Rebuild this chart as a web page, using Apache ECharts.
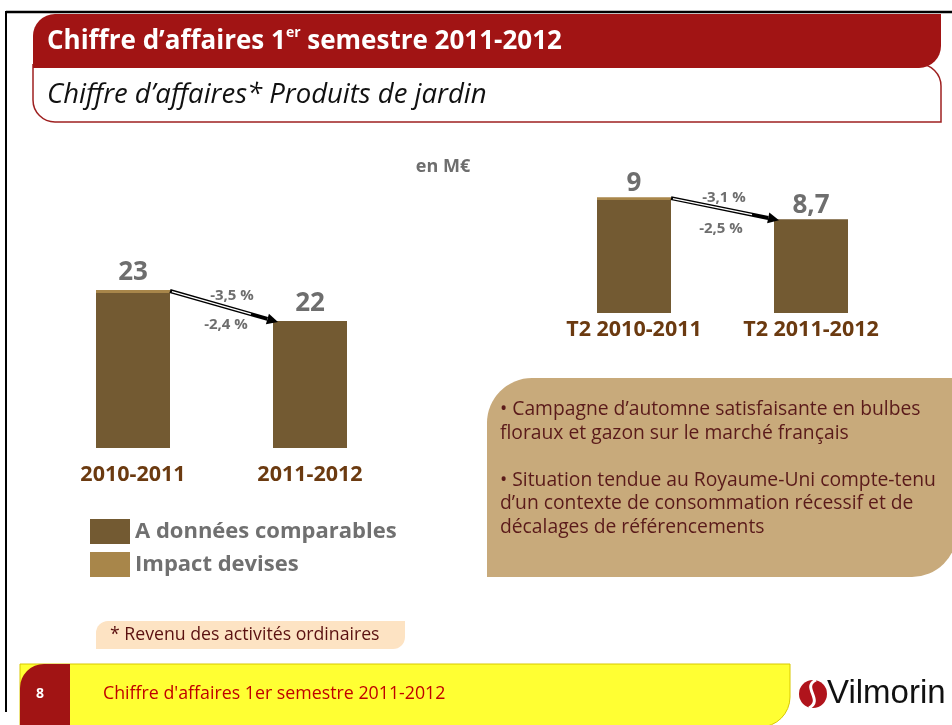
<!DOCTYPE html>
<html>
<head>
<meta charset="utf-8">
<script src="https://cdn.jsdelivr.net/npm/echarts@6/dist/echarts.min.js"></script>
<style>
html,body{margin:0;padding:0;background:#fff;}
#c{width:952px;height:725px;}
</style>
</head>
<body>
<div id="c"></div>
<script>
// ---- data ----
var catsH1 = ['2010-2011', '2011-2012'];
var catsT2 = ['T2 2010-2011', 'T2 2011-2012'];
var comparableH1 = [22.9, 22];
var impactH1 = [0.1, 0];
var totalLabelsH1 = ['23', '22'];
var comparableT2 = [8.96, 8.7];
var impactT2 = [0.04, 0];
var totalLabelsT2 = ['9', '8,7'];
var pctH1 = ['-3,5 %', '-2,4 %'];
var pctT2 = ['-3,1 %', '-2,5 %'];
var seriesNames = ['A données comparables', 'Impact devises'];
var bullets = [
  '• Campagne d’automne satisfaisante en bulbes',
  'floraux et gazon sur le marché français',
  '',
  '• Situation tendue au Royaume-Uni compte-tenu',
  'd’un contexte de consommation récessif et de',
  'décalages de référencements'
];

var FONT = '"Open Sans", "Noto Sans", sans-serif';
var DARKRED = '#A11414';
var BROWN = '#735A32';
var TAN = '#A8864A';
var GRAY = '#6E6E6E';
var CAT = '#6B3A10';

var chart = echarts.init(document.getElementById('c'), null, {renderer: 'canvas'});

function xAxisCfg(idx, data, margin) {
  return {
    type: 'category', gridIndex: idx, data: data,
    axisLine: {show: false}, axisTick: {show: false},
    axisLabel: {margin: margin, color: CAT, fontWeight: 'bold', fontSize: 21.5, fontFamily: FONT}
  };
}
function yAxisCfg(idx, min, max) {
  return {type: 'value', gridIndex: idx, min: min, max: max, show: false, splitLine: {show: false}};
}
function labelCfg(labels, dist) {
  return {
    show: true, position: 'top', distance: dist,
    color: GRAY, fontSize: 26, fontWeight: 'bold', fontFamily: FONT,
    formatter: function (p) { return labels[p.dataIndex]; }
  };
}

var option = {
  animation: false,
  backgroundColor: '#fff',
  legend: {
    orient: 'vertical', left: 85, top: 514, itemGap: 8,
    itemWidth: 40, itemHeight: 25, icon: 'rect',
    data: seriesNames,
    textStyle: {color: '#707070', fontSize: 22, fontWeight: 'bold', fontFamily: FONT},
    selectedMode: false
  },
  grid: [
    {left: 44.5, width: 354, top: 228, height: 220},
    {left: 545.5, width: 354, top: 160.5, height: 152.5}
  ],
  xAxis: [xAxisCfg(0, catsH1, 16), xAxisCfg(1, catsT2, 6)],
  yAxis: [yAxisCfg(0, 17.9, 25), yAxisCfg(1, 7.42, 9.5)],
  series: [
    {name: seriesNames[0], type: 'bar', xAxisIndex: 0, yAxisIndex: 0, stack: 'h1', barWidth: 74,
     itemStyle: {color: BROWN}, data: comparableH1},
    {name: seriesNames[1], type: 'bar', xAxisIndex: 0, yAxisIndex: 0, stack: 'h1', barWidth: 74,
     itemStyle: {color: TAN}, data: impactH1, label: labelCfg(totalLabelsH1, 4)},
    {name: seriesNames[0], type: 'bar', xAxisIndex: 1, yAxisIndex: 1, stack: 't2', barWidth: 74,
     itemStyle: {color: BROWN}, data: comparableT2},
    {name: seriesNames[1], type: 'bar', xAxisIndex: 1, yAxisIndex: 1, stack: 't2', barWidth: 74,
     itemStyle: {color: TAN}, data: impactT2, label: labelCfg(totalLabelsT2, 1)}
  ]
};
chart.setOption(option);

// ---- decoration & annotations ----
var g = [];
// frame
g.push({type: 'line', shape: {x1: 6, y1: 12, x2: 952, y2: 12}, style: {stroke: '#000', lineWidth: 2.5}, z: 10});
g.push({type: 'line', shape: {x1: 6, y1: 11, x2: 6, y2: 712}, style: {stroke: '#000', lineWidth: 2}, z: 10});
// subtitle box
g.push({type: 'rect', shape: {x: 33, y: 64, width: 908, height: 58, r: [0, 22, 0, 22]},
  style: {fill: '#fff', stroke: '#9E2020', lineWidth: 1.5}, z: 1});
// header
g.push({type: 'rect', shape: {x: 33, y: 14, width: 908, height: 54, r: [22, 0, 22, 0]},
  style: {fill: DARKRED}, z: 2});
g.push({type: 'text', x: 47, y: 42, z: 3, style: {
  text: '{a|Chiffre d’affaires 1}{s|er}{a| semestre 2011-2012}',
  verticalAlign: 'middle',
  rich: {
    a: {fill: '#fff', fontSize: 26, fontWeight: 'bold', fontFamily: FONT, lineHeight: 32},
    s: {fill: '#fff', fontSize: 14, fontWeight: 'bold', fontFamily: FONT, lineHeight: 32, verticalAlign: 'top', padding: [0, 0, 8, 0]}
  }
}});
g.push({type: 'text', x: 47, y: 95, z: 3, style: {
  text: 'Chiffre d’affaires* Produits de jardin', fill: '#111', fontSize: 27.5, fontStyle: 'italic',
  fontFamily: FONT, verticalAlign: 'middle'
}});
// unit
g.push({type: 'text', x: 443, y: 167, style: {text: 'en M€', fill: GRAY, fontSize: 18, fontWeight: 'bold',
  fontFamily: FONT, align: 'center', verticalAlign: 'middle'}});
// text box
g.push({type: 'rect', shape: {x: 487, y: 378, width: 470, height: 199, r: [45, 0, 45, 0]},
  style: {fill: '#C8AA7B'}, z: 0});
var ly = 410;
bullets.forEach(function (t) {
  if (t) {
    g.push({type: 'text', x: 500, y: ly, z: 1, style: {text: t, fill: '#5A1A1A', fontSize: 19.3,
      fontFamily: FONT, verticalAlign: 'middle'}});
  }
  ly += 23.5;
});
// footnote
g.push({type: 'rect', shape: {x: 96, y: 621, width: 309, height: 28, r: [12, 0, 12, 0]},
  style: {fill: '#FDE3C3'}, z: 0});
g.push({type: 'text', x: 110, y: 635, z: 1, style: {text: '* Revenu des activités ordinaires', fill: '#5A1010',
  fontSize: 17.7, fontFamily: FONT, verticalAlign: 'middle'}});
// footer
g.push({type: 'rect', shape: {x: 20, y: 664, width: 770, height: 63, r: [0, 0, 30, 0]},
  style: {fill: '#FFFF33', stroke: '#D8C800', lineWidth: 1}, z: 0});
g.push({type: 'rect', shape: {x: 20, y: 664, width: 50, height: 63, r: [24, 0, 0, 0]},
  style: {fill: DARKRED}, z: 1});
g.push({type: 'text', x: 40, y: 694, z: 2, style: {text: '8', fill: '#fff', fontSize: 14, fontWeight: 'bold',
  fontFamily: FONT, align: 'center', verticalAlign: 'middle'}});
g.push({type: 'text', x: 103, y: 694, z: 2, style: {text: 'Chiffre d\'affaires 1er semestre 2011-2012', fill: '#C00000',
  fontSize: 17.8, fontFamily: FONT, verticalAlign: 'middle'}});
// logo
g.push({type: 'circle', shape: {cx: 813, cy: 694, r: 14}, style: {fill: '#B0141C'}, z: 2});
g.push({type: 'bezierCurve', z: 3, shape: {x1: 816, y1: 680, cpx1: 801, cpy1: 687, cpx2: 824, cpy2: 700, x2: 809, y2: 708},
  style: {stroke: '#fff', lineWidth: 3, fill: null}});
g.push({type: 'text', x: 827, y: 694, z: 2, style: {text: 'Vilmorin', fill: '#111', fontSize: 33,
  fontFamily: '"Liberation Sans", Arial, sans-serif', verticalAlign: 'middle'}});

// arrows computed from bar positions
function addArrow(xIdx, yIdx, cats, topA, topB, pcts, o1, o2) {
  var half = 37;
  var pA = chart.convertToPixel({xAxisIndex: xIdx, yAxisIndex: yIdx}, [cats[0], topA]);
  var pB = chart.convertToPixel({xAxisIndex: xIdx, yAxisIndex: yIdx}, [cats[1], topB]);
  var x1 = pA[0] + half, y1 = pA[1] + 1;
  var x2 = pB[0] - half + 5, y2 = pB[1] + 1;
  var dx = x2 - x1, dy = y2 - y1, len = Math.sqrt(dx * dx + dy * dy);
  var ux = dx / len, uy = dy / len, nx = -uy, ny = ux;
  var hl = 11, hw = 5.5;
  var bx = x2 - ux * hl, by = y2 - uy * hl;
  g.push({type: 'line', z: 5, shape: {x1: x1, y1: y1, x2: bx, y2: by}, style: {stroke: '#000', lineWidth: 4}});
  g.push({type: 'line', z: 6, shape: {x1: x1 + ux * 2, y1: y1 + uy * 2, x2: x1 + ux * len * 0.75, y2: y1 + uy * len * 0.75},
    style: {stroke: '#fff', lineWidth: 1.3}});
  g.push({type: 'polygon', z: 6, shape: {points: [[x2, y2], [bx + nx * hw, by + ny * hw], [bx - nx * hw, by - ny * hw]]},
    style: {fill: '#000'}});
  var mx = (x1 + x2) / 2, my = (y1 + y2) / 2;
  g.push({type: 'text', x: mx + o1[0], y: my + o1[1], z: 7, style: {text: pcts[0], fill: GRAY, fontSize: 15,
    fontWeight: 'bold', fontFamily: FONT, align: 'center', verticalAlign: 'middle'}});
  g.push({type: 'text', x: mx + o2[0], y: my + o2[1], z: 7, style: {text: pcts[1], fill: GRAY, fontSize: 15,
    fontWeight: 'bold', fontFamily: FONT, align: 'center', verticalAlign: 'middle'}});
}
addArrow(0, 0, catsH1, comparableH1[0] + impactH1[0], comparableH1[1] + impactH1[1], pctH1, [8, -11], [2, 18]);
addArrow(1, 1, catsT2, comparableT2[0] + impactT2[0], comparableT2[1] + impactT2[1], pctT2, [-1, -11], [-4, 20]);

chart.setOption({graphic: {elements: g}});
</script>
</body>
</html>
